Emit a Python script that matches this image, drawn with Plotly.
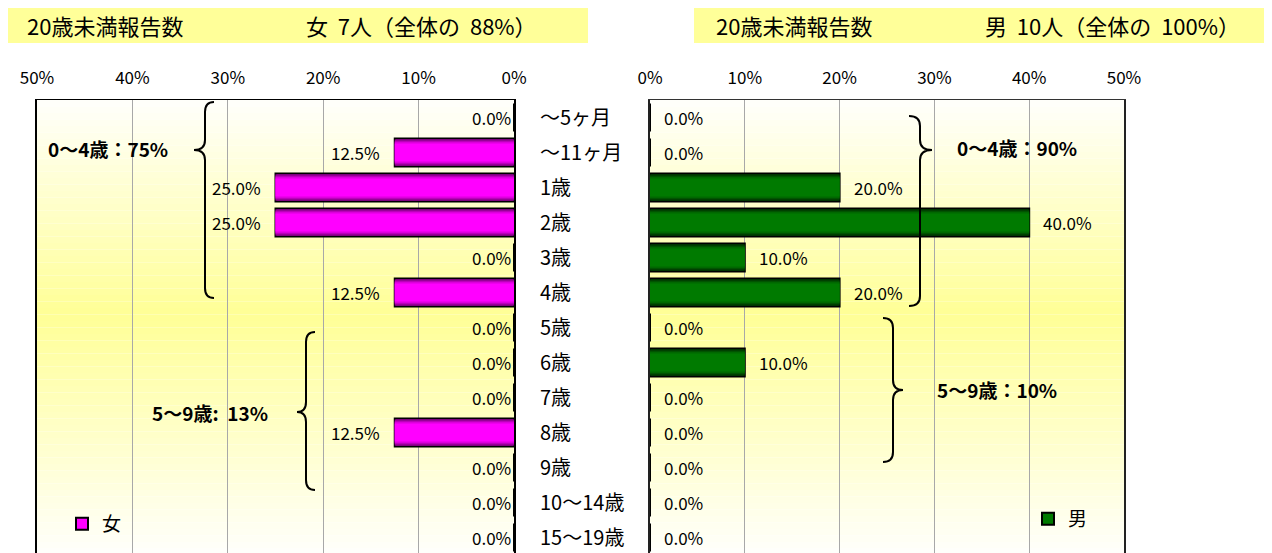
import plotly.graph_objects as go

# ---------------- data ----------------
categories = ["～5ヶ月", "～11ヶ月", "1歳", "2歳", "3歳", "4歳", "5歳", "6歳",
              "7歳", "8歳", "9歳", "10～14歳", "15～19歳"]
female_pct = [0.0, 12.5, 25.0, 25.0, 0.0, 12.5, 0.0, 0.0, 0.0, 12.5, 0.0, 0.0, 0.0]
male_pct = [0.0, 0.0, 20.0, 40.0, 10.0, 20.0, 0.0, 10.0, 0.0, 0.0, 0.0, 0.0, 0.0]
x_ticks = [0, 10, 20, 30, 40, 50]
x_tick_labels = ["0%", "10%", "20%", "30%", "40%", "50%"]
female_total, female_share = 7, 88
male_total, male_share = 10, 100
female_groups = ["0～4歳：75%", "5～9歳:  13%"]
male_groups = ["0～4歳：90%", "5～9歳：10%"]

W, H = 1272, 553
FONT = "Noto Sans CJK JP"
OFF = 8  # page offset of the figure inside the browser page


def px(x):
    return (x - OFF) / W


def py(y):
    return 1 - (y - OFF) / H


fig = go.Figure()

# layered bars to imitate the vertical gradient of the original bars
mag_layers = [(0.80, "#FF00FF"), (0.76, "#800080"), (0.69, "#B000B0"),
              (0.61, "#DC00DC"), (0.52, "#FF00FF")]
grn_layers = [(0.80, "#007A00"), (0.76, "#003300"), (0.69, "#004E00"),
              (0.61, "#006800"), (0.52, "#007A00")]

for i, (w, c) in enumerate(mag_layers):
    fig.add_trace(go.Bar(
        y=categories, x=female_pct, orientation="h", xaxis="x", yaxis="y",
        width=w, name="女", showlegend=(i == 0), legend="legend",
        marker=dict(color=c, line=dict(color="black", width=2 if i == 0 else 0)),
        hoverinfo="skip"))
for i, (w, c) in enumerate(grn_layers):
    fig.add_trace(go.Bar(
        y=categories, x=male_pct, orientation="h", xaxis="x2", yaxis="y2",
        width=w, name="男", showlegend=(i == 0), legend="legend2",
        marker=dict(color=c, line=dict(color="black", width=2 if i == 0 else 0)),
        hoverinfo="skip"))

# ---------------- shapes ----------------
shapes = []
N = 70
for k in range(N):
    f0, f1 = k / N, (k + 1) / N
    fm = (f0 + f1) / 2
    peak = 0.47
    t = fm / peak if fm < peak else (1 - fm) / (1 - peak)
    b = int(round(252 - (252 - 150) * t))
    col = f"rgb(255,255,{b})"
    for xr in ("x domain", "x2 domain"):
        shapes.append(dict(type="rect", xref=xr, yref="y domain",
                           x0=0, x1=1, y0=1 - f1, y1=1 - f0,
                           fillcolor=col, line=dict(width=0), layer="below"))

shapes.append(dict(type="rect", xref="paper", yref="paper",
                   x0=px(8), x1=px(588), y0=py(43), y1=py(8),
                   fillcolor="#FFFF99", line=dict(width=0)))
shapes.append(dict(type="rect", xref="paper", yref="paper",
                   x0=px(694), x1=px(1270), y0=py(43), y1=py(8),
                   fillcolor="#FFFF99", line=dict(width=0)))


def brace(xv, yt, yb, ytip, d, e, r=10):
    s = 1 if d > 0 else -1
    xe = xv + s * e
    xt = xv - d
    pts = [
        f"M {px(xe)},{py(yt)}",
        f"Q {px(xv)},{py(yt)} {px(xv)},{py(yt + r)}",
        f"L {px(xv)},{py(ytip - r)}",
        f"Q {px(xv)},{py(ytip)} {px(xt)},{py(ytip)}",
        f"Q {px(xv)},{py(ytip)} {px(xv)},{py(ytip + r)}",
        f"L {px(xv)},{py(yb - r)}",
        f"Q {px(xv)},{py(yb)} {px(xe)},{py(yb)}",
    ]
    return dict(type="path", xref="paper", yref="paper", path=" ".join(pts),
                line=dict(color="black", width=2))


shapes.append(brace(205, 102, 298, 150, 11, 9))
shapes.append(brace(306, 332, 490, 412, 9, 9))
shapes.append(brace(920, 116, 306, 150, -12, 11))
shapes.append(brace(893, 318, 462, 390, -10, 10))

# ---------------- annotations ----------------
ann = []
lab_font = dict(family=FONT, size=17, color="black")
for c, v in zip(categories, female_pct):
    ann.append(dict(x=v, y=c, xref="x", yref="y", text=f"{v:.1f}%",
                    showarrow=False, xanchor="right", yanchor="middle",
                    xshift=-13 if v > 0 else -1, font=lab_font))
for c, v in zip(categories, male_pct):
    ann.append(dict(x=v, y=c, xref="x2", yref="y2", text=f"{v:.1f}%",
                    showarrow=False, xanchor="left", yanchor="middle",
                    xshift=12, font=lab_font))

title_font = dict(family=FONT, size=22, color="black")
ann += [
    dict(x=px(25), y=py(25), xref="paper", yref="paper", text="20歳未満報告数",
         showarrow=False, xanchor="left", yanchor="middle", font=title_font),
    dict(x=px(304), y=py(25), xref="paper", yref="paper",
         text=f"女  {female_total}人（全体の  {female_share}%）",
         showarrow=False, xanchor="left", yanchor="middle", font=title_font),
    dict(x=px(714), y=py(25), xref="paper", yref="paper", text="20歳未満報告数",
         showarrow=False, xanchor="left", yanchor="middle", font=title_font),
    dict(x=px(983), y=py(25), xref="paper", yref="paper",
         text=f"男  {male_total}人（全体の  {male_share}%）",
         showarrow=False, xanchor="left", yanchor="middle", font=title_font),
]

bold_font = dict(family=FONT, size=19, color="black", weight="bold")
for txt, (x0, y0) in zip(female_groups + male_groups,
                         [(46, 148), (150, 412), (955, 147), (935, 389)]):
    ann.append(dict(x=px(x0), y=py(y0), xref="paper", yref="paper", text=txt,
                    showarrow=False, xanchor="left", yanchor="middle",
                    font=bold_font))

# ---------------- layout ----------------
y_dom = [py(555), py(100)]
y_range = [12.5, -0.5]
tickfont = dict(family=FONT, size=17, color="black")

fig.update_layout(
    template="none",
    autosize=False,
    width=W, height=H,
    margin=dict(l=0, r=0, t=0, b=0, pad=0, autoexpand=False),
    paper_bgcolor="white", plot_bgcolor="rgba(0,0,0,0)",
    barmode="overlay",
    font=dict(family=FONT, color="black"),
    shapes=shapes, annotations=ann,
    xaxis=dict(domain=[px(37), px(514)], range=[50, 0], side="top",
               tickmode="array", tickvals=x_ticks, ticktext=x_tick_labels,
               ticks="", tickfont=tickfont, automargin=False,
               ticklabelstandoff=8, showgrid=True, gridcolor="#A8A8A8",
               gridwidth=1, zeroline=False, showline=True,
               linecolor="black", linewidth=1, anchor="y", fixedrange=True),
    yaxis=dict(domain=y_dom, type="category", categoryorder="array",
               categoryarray=categories, range=y_range, side="right",
               anchor="x", ticks="", ticklabelstandoff=20, automargin=False,
               tickfont=dict(family=FONT, size=20, color="black"),
               showgrid=False, zeroline=False, showline=True, mirror=True,
               linecolor="black", linewidth=2, fixedrange=True),
    xaxis2=dict(domain=[px(650), px(1124)], range=[0, 50], side="top",
                tickmode="array", tickvals=x_ticks, ticktext=x_tick_labels,
                ticks="", tickfont=tickfont, automargin=False,
                ticklabelstandoff=8, showgrid=True, gridcolor="#A8A8A8",
                gridwidth=1, zeroline=False, showline=True,
                linecolor="#333333", linewidth=1, anchor="y2", fixedrange=True),
    yaxis2=dict(domain=y_dom, type="category", categoryorder="array",
                categoryarray=categories, range=y_range, side="left",
                anchor="x2", showticklabels=False, ticks="", automargin=False,
                showgrid=False, zeroline=False, showline=True, mirror=True,
                linecolor="#222222", linewidth=2, fixedrange=True),
    legend=dict(x=px(62), y=py(524), xanchor="left", yanchor="middle",
                bgcolor="rgba(0,0,0,0)", borderwidth=0,
                font=dict(family=FONT, size=19, color="black"),
                itemwidth=30),
    legend2=dict(x=px(1028), y=py(519), xanchor="left", yanchor="middle",
                 bgcolor="rgba(0,0,0,0)", borderwidth=0,
                 font=dict(family=FONT, size=19, color="black"),
                 itemwidth=30),
    showlegend=True,
)

fig.write_html("out.html")
